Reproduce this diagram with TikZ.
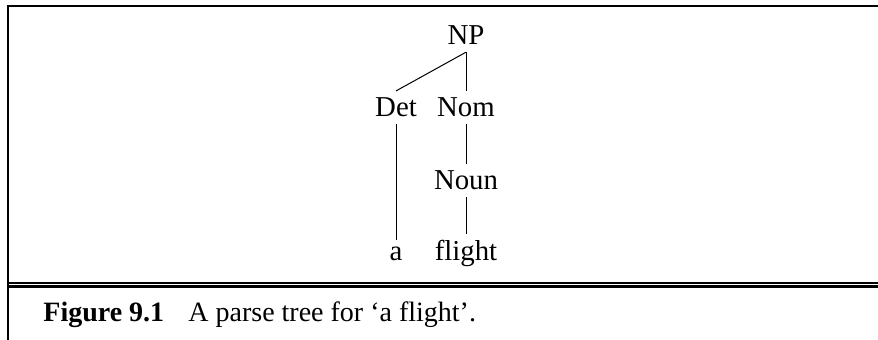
\documentclass[tikz,border=0pt]{standalone}
\usepackage{fontspec}
\setmainfont{Liberation Serif}
\usetikzlibrary{positioning}

\begin{document}
\begin{tikzpicture}[
  x=0.5pt, y=-0.5pt,
  cat/.style={inner sep=3.4pt, font=\fontsize{14.4}{17}\selectfont},
  branch/.style={line width=0.5pt},
  frame/.style={line width=1pt},
  capt/.style={anchor=base west, inner sep=0pt, font=\fontsize{14}{17}\selectfont}
]
  \useasboundingbox (0,0) rectangle (878,340);
  % frame
  \draw[frame] (8,340) -- (8,6) -- (878,6);
  \draw[line width=0.7pt] (8,283) -- (878,283);
  \draw[line width=1.5pt] (8,286.5) -- (878,286.5);
  % tree
  \node[cat, anchor=base] (np) at (466, 45) {NP};
  \node[cat, anchor=base] (det) at (396, 117) {Det};
  \node[cat, anchor=base] (nom) at (466, 117) {Nom};
  \node[cat, anchor=base] (noun) at (466, 190) {Noun};
  \node[cat, anchor=base] (a) at (396, 261) {a};
  \node[cat, anchor=base] (flight) at (466, 261) {flight};
  \draw[branch] (np.south) -- (det.north);
  \draw[branch] (np.south) -- (nom.north);
  \draw[branch] (det.south) -- (a.north);
  \draw[branch] (nom.south) -- (noun.north);
  \draw[branch] (noun.south) -- (flight.north);
  % caption
  \node[capt] (fignum) at (43, 322) {\bfseries Figure 9.1};
  \node[capt] (figtext) at (188, 322) {A parse tree for `a flight'.};
\end{tikzpicture}
\end{document}
